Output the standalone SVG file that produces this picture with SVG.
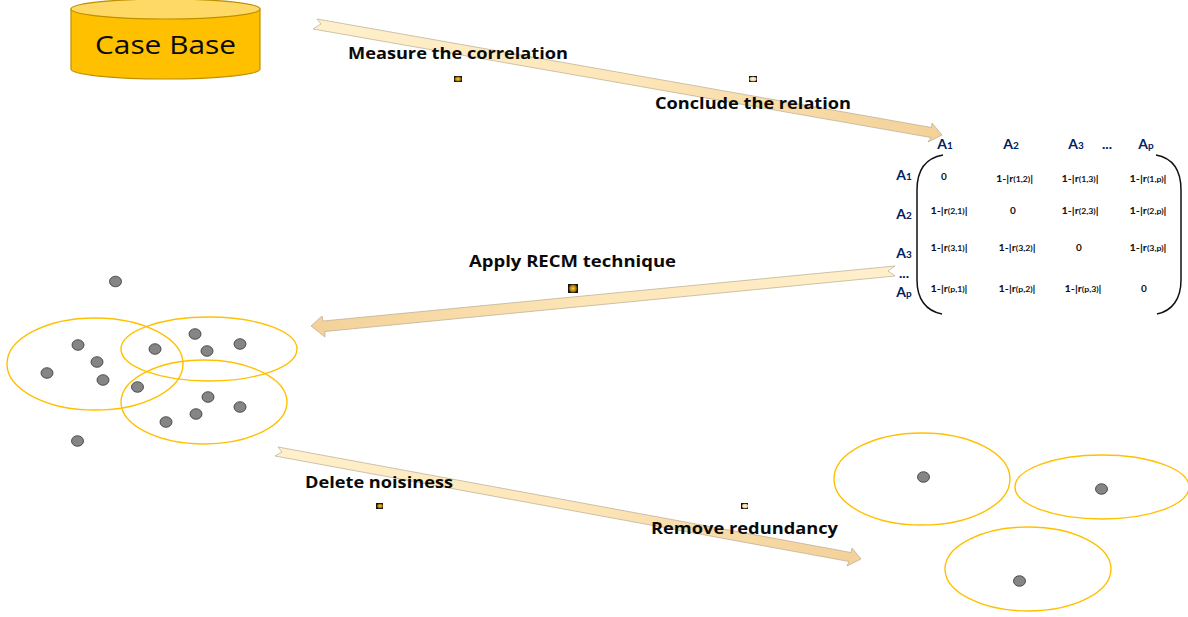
<svg xmlns="http://www.w3.org/2000/svg" width="1188" height="617" viewBox="0 0 1188 617">
<style>
.lbl{font-family:"Open Sans","Liberation Sans",sans-serif;font-weight:700;font-size:16.5px;fill:#0a0a0a}
.arrow{stroke:#b9ab92;stroke-width:.7}
.cl{fill:none;stroke:#ffc000;stroke-width:1.4}
.pt{fill:#858585;stroke:#333;stroke-width:.8}
.hd{font-family:Lato,"Liberation Sans",sans-serif;font-weight:700;font-size:14px;fill:#002060;text-anchor:middle}
.hd tspan{font-size:10px}
.c{font-family:Lato,"Liberation Sans",sans-serif;font-weight:700;font-size:10px;fill:#111;text-anchor:middle}
.c tspan{font-size:8px}
.br{fill:none;stroke:#111;stroke-width:1.5}
.ic{fill:#141414}
</style>
<defs>
<linearGradient id="a1" gradientUnits="userSpaceOnUse" x1="315" y1="24" x2="942" y2="135"><stop offset="0" stop-color="#fff0cc"/><stop offset=".5" stop-color="#fde6b8"/><stop offset="1" stop-color="#f3d199"/></linearGradient>
<linearGradient id="a2" gradientUnits="userSpaceOnUse" x1="895" y1="271" x2="311" y2="326"><stop offset="0" stop-color="#fff0cc"/><stop offset=".5" stop-color="#fde6b8"/><stop offset="1" stop-color="#f3d199"/></linearGradient>
<linearGradient id="a3" gradientUnits="userSpaceOnUse" x1="277" y1="452" x2="861" y2="559"><stop offset="0" stop-color="#fff0cc"/><stop offset=".5" stop-color="#fde6b8"/><stop offset="1" stop-color="#f3d199"/></linearGradient>
<radialGradient id="g1"><stop offset="0" stop-color="#ffd23c"/><stop offset=".6" stop-color="#c08a10"/><stop offset="1" stop-color="#7a5608"/></radialGradient>
<radialGradient id="g2"><stop offset="0" stop-color="#fff6e0"/><stop offset="1" stop-color="#e8c98a"/></radialGradient>
</defs>

<g id="case-base">
<path d="M71 9V69A94.500 10 0 0 0 260 69V9Z" fill="#ffc000" stroke="#bf9000" stroke-width="1.2"/>
<ellipse cx="165.500" cy="9" rx="94.500" ry="10" fill="#ffd966" stroke="#bf9000" stroke-width="1.2"/>
<text x="95" y="54" font-family="Open Sans,Liberation Sans,sans-serif" font-size="26" fill="#0a0a0a" textLength="141" lengthAdjust="spacingAndGlyphs">Case Base</text>
</g>

<g id="matrix">
<path class="br" d="M943 155C926 158 917 170 917 190V280C917 299 926 311 942 314"/>
<path class="br" d="M1156 155C1172 158 1181 170 1181 190V280C1181 299 1172 311 1157 314"/>
<text class="hd" x="945" y="149">A<tspan>1</tspan></text>
<text class="hd" x="1011" y="149">A<tspan>2</tspan></text>
<text class="hd" x="1076" y="149">A<tspan>3</tspan></text>
<text class="hd" x="1107" y="149">...</text>
<text class="hd" x="1146" y="149">A<tspan>p</tspan></text>
<text class="hd" x="904" y="180">A<tspan>1</tspan></text>
<text class="hd" x="904" y="219">A<tspan>2</tspan></text>
<text class="hd" x="904" y="258">A<tspan>3</tspan></text>
<text class="hd" x="904" y="278">...</text>
<text class="hd" x="904" y="297">A<tspan>p</tspan></text>
<text class="c" x="944" y="180">0</text>
<text class="c" x="1014.500" y="182" textLength="37" lengthAdjust="spacingAndGlyphs">1-|r<tspan>(1,2)</tspan>|</text>
<text class="c" x="1080" y="182" textLength="37" lengthAdjust="spacingAndGlyphs">1-|r<tspan>(1,3)</tspan>|</text>
<text class="c" x="1148" y="182" textLength="37" lengthAdjust="spacingAndGlyphs">1-|r<tspan>(1,p)</tspan>|</text>
<text class="c" x="949" y="214" textLength="37" lengthAdjust="spacingAndGlyphs">1-|r<tspan>(2,1)</tspan>|</text>
<text class="c" x="1013" y="214">0</text>
<text class="c" x="1080" y="214" textLength="37" lengthAdjust="spacingAndGlyphs">1-|r<tspan>(2,3)</tspan>|</text>
<text class="c" x="1148" y="214" textLength="37" lengthAdjust="spacingAndGlyphs">1-|r<tspan>(2,p)</tspan>|</text>
<text class="c" x="949" y="251" textLength="37" lengthAdjust="spacingAndGlyphs">1-|r<tspan>(3,1)</tspan>|</text>
<text class="c" x="1017" y="251" textLength="37" lengthAdjust="spacingAndGlyphs">1-|r<tspan>(3,2)</tspan>|</text>
<text class="c" x="1079" y="251">0</text>
<text class="c" x="1148" y="251" textLength="37" lengthAdjust="spacingAndGlyphs">1-|r<tspan>(3,p)</tspan>|</text>
<text class="c" x="949" y="292" textLength="37" lengthAdjust="spacingAndGlyphs">1-|r<tspan>(p,1)</tspan>|</text>
<text class="c" x="1017" y="292" textLength="37" lengthAdjust="spacingAndGlyphs">1-|r<tspan>(p,2)</tspan>|</text>
<text class="c" x="1083" y="292" textLength="37" lengthAdjust="spacingAndGlyphs">1-|r<tspan>(p,3)</tspan>|</text>
<text class="c" x="1144" y="292">0</text>
</g>

<g id="clusters-before">
<ellipse class="cl" cx="95" cy="364" rx="88" ry="46"/>
<ellipse class="cl" cx="209" cy="349" rx="88" ry="32"/>
<ellipse class="cl" cx="204" cy="402" rx="83" ry="42"/>
<ellipse class="pt" cx="115.500" cy="281.500" rx="6" ry="5.300"/>
<ellipse class="pt" cx="78" cy="345" rx="6" ry="5.300"/>
<ellipse class="pt" cx="97" cy="362" rx="6" ry="5.300"/>
<ellipse class="pt" cx="47" cy="373" rx="6" ry="5.300"/>
<ellipse class="pt" cx="103" cy="380" rx="6" ry="5.300"/>
<ellipse class="pt" cx="155" cy="349" rx="6" ry="5.300"/>
<ellipse class="pt" cx="195" cy="334" rx="6" ry="5.300"/>
<ellipse class="pt" cx="207" cy="351" rx="6" ry="5.300"/>
<ellipse class="pt" cx="240" cy="344" rx="6" ry="5.300"/>
<ellipse class="pt" cx="137.500" cy="387" rx="6" ry="5.300"/>
<ellipse class="pt" cx="208" cy="397" rx="6" ry="5.300"/>
<ellipse class="pt" cx="240" cy="407" rx="6" ry="5.300"/>
<ellipse class="pt" cx="196" cy="414" rx="6" ry="5.300"/>
<ellipse class="pt" cx="166" cy="422" rx="6" ry="5.300"/>
<ellipse class="pt" cx="77.500" cy="441" rx="6" ry="5.300"/>
</g>

<g id="clusters-after">
<ellipse class="cl" cx="922" cy="479" rx="88" ry="46"/>
<ellipse class="cl" cx="1102" cy="487" rx="87" ry="32"/>
<ellipse class="cl" cx="1028" cy="569" rx="83" ry="42"/>
<ellipse class="pt" cx="923.500" cy="477" rx="6" ry="5.300"/>
<ellipse class="pt" cx="1101.500" cy="489" rx="6" ry="5.300"/>
<ellipse class="pt" cx="1019.500" cy="581" rx="6" ry="5.300"/>
</g>

<g id="connectors">
<path class="arrow" fill="url(#a1)" d="M317 19L321 24L313 29L931 137.500L928 142L942 135L932 123L931.500 127.500Z"/>
<path class="arrow" fill="url(#a2)" d="M895 266L888 271L895 276L325 331.500L325 337L311 326L322 316L323 321Z"/>
<path class="arrow" fill="url(#a3)" d="M278 447L282 452L275 456L849 561.500L847 566L861 559L852 548L851 552.500Z"/>
</g>

<g id="labels">
<text class="lbl" x="348" y="59" textLength="220" lengthAdjust="spacingAndGlyphs">Measure the correlation</text>
<text class="lbl" x="655" y="109" textLength="196" lengthAdjust="spacingAndGlyphs">Conclude the relation</text>
<text class="lbl" x="469" y="267" textLength="207" lengthAdjust="spacingAndGlyphs">Apply RECM technique</text>
<text class="lbl" x="305" y="488" textLength="148" lengthAdjust="spacingAndGlyphs">Delete noisiness</text>
<text class="lbl" x="651" y="534" textLength="187" lengthAdjust="spacingAndGlyphs">Remove redundancy</text>
</g>

<g id="marks">
<rect class="ic" x="454" y="76" width="8" height="6"/><ellipse cx="458" cy="79" rx="3.500" ry="2.500" fill="url(#g1)"/>
<rect class="ic" x="749" y="76" width="8" height="6"/><ellipse cx="753" cy="79" rx="3.500" ry="2.300" fill="url(#g2)"/>
<rect class="ic" x="568" y="284" width="10" height="9"/><circle cx="573" cy="288.500" r="4" fill="url(#g1)"/>
<rect class="ic" x="376" y="503" width="7" height="6"/><ellipse cx="380" cy="506" rx="3" ry="2.300" fill="url(#g1)"/>
<rect class="ic" x="741" y="503" width="7" height="6"/><ellipse cx="745" cy="506" rx="3" ry="2.300" fill="url(#g2)"/>
</g>
</svg>
